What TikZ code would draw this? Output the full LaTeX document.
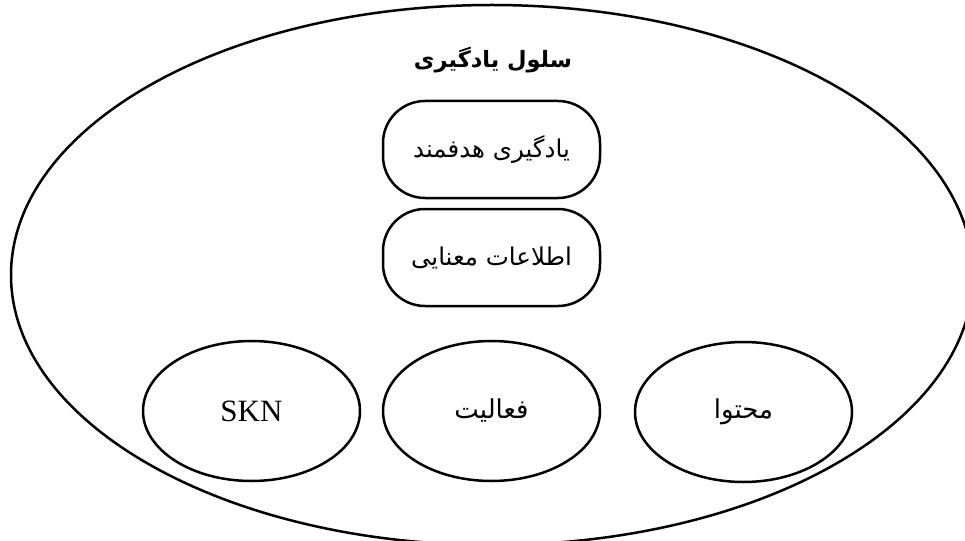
\documentclass[tikz,border=0pt]{standalone}
\usepackage{fontspec}
\setmainfont{Liberation Serif}
\newfontfamily\arabicfont[Script=Arabic]{DejaVu Sans}
\TeXXeTstate=1
\usetikzlibrary{shapes.geometric}
\begin{document}
\begin{tikzpicture}[x=1pt,y=-1pt,
  outline/.style={draw=black, line width=2.5pt},
  cellring/.style={outline, ellipse, inner sep=0pt, minimum width=962pt, minimum height=540pt},
  stagebox/.style={outline, rounded corners=42pt, inner sep=0pt,
    minimum width=217pt, minimum height=97pt,
    font=\arabicfont\fontsize{24.5}{28}\selectfont},
  partoval/.style={outline, ellipse, inner sep=0pt,
    minimum width=217pt, minimum height=140pt},
  arlabel/.style={font=\arabicfont\fontsize{26}{30}\selectfont},
  latlabel/.style={font=\fontsize{31}{36}\selectfont},
  titletext/.style={font=\arabicfont\bfseries\fontsize{22.5}{26}\selectfont}]
\useasboundingbox (0,0) rectangle (965,540);
\clip (0,0) rectangle (965,540);
\fill[white] (0,0) rectangle (965,540);

% the learning cell that holds everything
\node[cellring] (cell) at (492,275) {};
\node[titletext] (title) at (493,60) {\beginR سلول یادگیری\endR};

% stacked stages
\node[stagebox] (goal) at (491.5,149.5) {\beginR یادگیری هدفمند\endR};
\node[stagebox] (sem) at (491.5,257.5) {\beginR اطلاعات معنایی\endR};

% the three components
\node[partoval, latlabel] (skn) at (251.5,411) {SKN};
\node[partoval, arlabel] (act) at (491.5,411) {\beginR فعالیت\endR};
\node[partoval, arlabel] (cont) at (743.5,412) {\beginR محتوا\endR};
\end{tikzpicture}
\end{document}
